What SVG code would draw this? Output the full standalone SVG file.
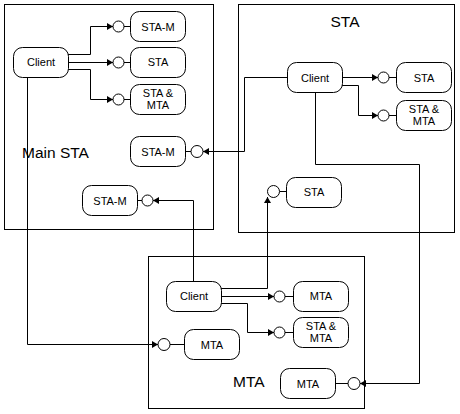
<svg xmlns="http://www.w3.org/2000/svg" width="460" height="414" viewBox="0 0 460 414">
<defs>
<marker id="arr" markerUnits="userSpaceOnUse" markerWidth="8" markerHeight="8" refX="6" refY="3.5" orient="auto">
<path d="M0,0 L6,3.5 L0,7 Z" fill="#000"/>
</marker>
<style>
.box{fill:#fff;stroke:#000;stroke-width:1}
.node{fill:#fff;stroke:#000;stroke-width:1}
.port{fill:#fff;stroke:#000;stroke-width:1}
.ln{fill:none;stroke:#000;stroke-width:1}
.c{fill:none;stroke:#000;stroke-width:1;marker-end:url(#arr)}
.t{font-family:"Liberation Sans",Arial,sans-serif;font-size:11px;text-anchor:middle;fill:#000}
.big{font-family:"Liberation Sans",Arial,sans-serif;font-size:15.5px;fill:#000}
</style>
</defs>
<rect width="460" height="414" fill="#fff"/>
<g id="main-sta">
<rect class="box" x="4.5" y="4.5" width="209" height="225"/>
<text class="big" x="22" y="158">Main STA</text>
</g>
<g id="sta">
<rect class="box" x="238.5" y="4.5" width="216" height="228"/>
<text class="big" x="345" y="27" text-anchor="middle">STA</text>
</g>
<g id="mta">
<rect class="box" x="148.5" y="256.5" width="216" height="152"/>
<text class="big" x="233" y="387">MTA</text>
</g>
<g id="connectors">
<polyline class="c" points="68,54.5 90.5,54.5 90.5,26.5 113,26.5"/>
<polyline class="c" points="68,62.5 113,62.5"/>
<polyline class="c" points="68,69.5 90.5,69.5 90.5,99.5 113,99.5"/>
<polyline class="c" points="27.5,77 27.5,344.5 158,344.5"/>
<polyline class="c" points="287,77.5 244.5,77.5 244.5,151.5 203,151.5"/>
<polyline class="c" points="342,77.5 378,77.5"/>
<polyline class="c" points="342,85.5 358.5,85.5 358.5,115.5 378,115.5"/>
<polyline class="c" points="315.5,92 315.5,164.5 419.5,164.5 419.5,383.5 360,383.5"/>
<polyline class="c" points="193.5,281 193.5,200.5 153,200.5"/>
<polyline class="c" points="221,288.5 267.5,288.5 267.5,197"/>
<polyline class="c" points="221,296.5 274,296.5"/>
<polyline class="c" points="221,303.5 247.5,303.5 247.5,332.5 274,332.5"/>
<line class="ln" x1="124" y1="26.5" x2="130" y2="26.5"/>
<line class="ln" x1="124" y1="62.5" x2="130" y2="62.5"/>
<line class="ln" x1="124" y1="99.5" x2="130" y2="99.5"/>
<line class="ln" x1="185" y1="151.5" x2="191" y2="151.5"/>
<line class="ln" x1="137" y1="200.5" x2="142" y2="200.5"/>
<line class="ln" x1="389" y1="77.5" x2="396" y2="77.5"/>
<line class="ln" x1="389" y1="115.5" x2="396" y2="115.5"/>
<line class="ln" x1="279.5" y1="191.5" x2="286" y2="191.5"/>
<line class="ln" x1="285" y1="296.5" x2="293" y2="296.5"/>
<line class="ln" x1="285" y1="332.5" x2="293" y2="332.5"/>
<line class="ln" x1="170" y1="344.5" x2="184" y2="344.5"/>
<line class="ln" x1="335" y1="383.5" x2="348" y2="383.5"/>
</g>
<g id="ports">
<circle class="port" cx="118.5" cy="26.5" r="5.5"/>
<circle class="port" cx="118.5" cy="62.5" r="5.5"/>
<circle class="port" cx="118.5" cy="99.5" r="5.5"/>
<circle class="port" cx="197" cy="151.5" r="6"/>
<circle class="port" cx="147.5" cy="200.5" r="5.5"/>
<circle class="port" cx="383.5" cy="77.5" r="5.5"/>
<circle class="port" cx="383.5" cy="115.5" r="5.5"/>
<circle class="port" cx="273.5" cy="191.5" r="6"/>
<circle class="port" cx="279.5" cy="296.5" r="5.5"/>
<circle class="port" cx="279.5" cy="332.5" r="5.5"/>
<circle class="port" cx="164" cy="344.5" r="6"/>
<circle class="port" cx="354" cy="383.5" r="6"/>
</g>
<g id="main-client"><rect class="node" x="13.5" y="47.5" width="55" height="30" rx="9"/><text class="t" x="41" y="66">Client</text></g>
<g id="main-sta-m1"><rect class="node" x="130.5" y="11.5" width="55" height="30" rx="9"/><text class="t" x="158" y="30.5">STA-M</text></g>
<g id="main-sta1"><rect class="node" x="130.5" y="47.5" width="55" height="30" rx="9"/><text class="t" x="158" y="66">STA</text></g>
<g id="main-stamta"><rect class="node" x="130.5" y="84.5" width="55" height="30" rx="9"/><text class="t" x="158" y="97">STA &amp;</text><text class="t" x="158" y="109">MTA</text></g>
<g id="main-sta-m2"><rect class="node" x="130.5" y="136.5" width="55" height="30" rx="9"/><text class="t" x="158" y="155.5">STA-M</text></g>
<g id="main-sta-m3"><rect class="node" x="82.5" y="185.5" width="55" height="30" rx="9"/><text class="t" x="110" y="204.5">STA-M</text></g>
<g id="sta-client"><rect class="node" x="287.5" y="62.5" width="55" height="30" rx="9"/><text class="t" x="315" y="81.5">Client</text></g>
<g id="sta-sta1"><rect class="node" x="396.5" y="62.5" width="55" height="30" rx="9"/><text class="t" x="424" y="81.5">STA</text></g>
<g id="sta-stamta"><rect class="node" x="396.5" y="100.5" width="55" height="30" rx="9"/><text class="t" x="424" y="113">STA &amp;</text><text class="t" x="424" y="125">MTA</text></g>
<g id="sta-sta2"><rect class="node" x="286.5" y="177.5" width="55" height="30" rx="9"/><text class="t" x="314" y="196">STA</text></g>
<g id="mta-client"><rect class="node" x="166.5" y="281.5" width="55" height="30" rx="9"/><text class="t" x="194" y="300">Client</text></g>
<g id="mta-mta1"><rect class="node" x="293.5" y="281.5" width="55" height="30" rx="9"/><text class="t" x="321" y="300">MTA</text></g>
<g id="mta-stamta"><rect class="node" x="293.5" y="317.5" width="55" height="30" rx="9"/><text class="t" x="321" y="330">STA &amp;</text><text class="t" x="321" y="342">MTA</text></g>
<g id="mta-mta2"><rect class="node" x="184.5" y="329.5" width="55" height="30" rx="9"/><text class="t" x="212" y="348.5">MTA</text></g>
<g id="mta-mta3"><rect class="node" x="280.5" y="368.5" width="55" height="30" rx="9"/><text class="t" x="308" y="387.5">MTA</text></g>
</svg>
